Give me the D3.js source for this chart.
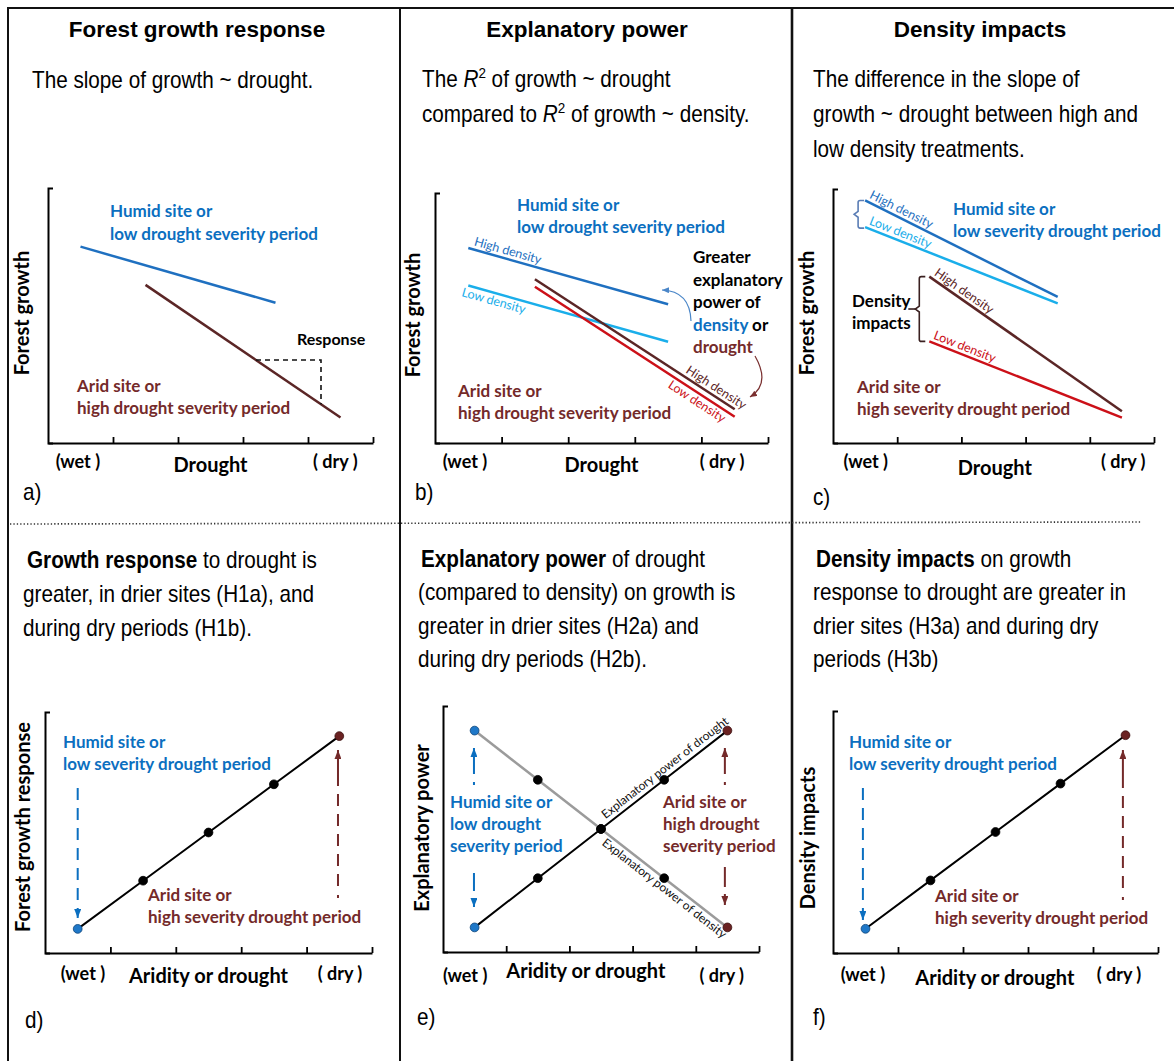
<!DOCTYPE html>
<html><head><meta charset="utf-8">
<script src="https://cdn.jsdelivr.net/npm/d3@7/dist/d3.min.js"></script>
<style>html,body{margin:0;padding:0;background:#fff;} svg{display:block;} text{white-space:pre;}</style>
</head><body>
<svg id="chart" width="1174" height="1061" xmlns="http://www.w3.org/2000/svg"></svg>
<script>
// ---------------- DATA ----------------
const xTickValues = [1, 2, 3, 4, 5];
const xEndLabels = ["(wet )", "( dry )"];
const panelTitles = ["Forest growth response", "Explanatory power", "Density impacts"];
const panelLetters = ["a)", "b)", "c)", "d)", "e)", "f)"];
const yAxisTitles = ["Forest growth", "Forest growth", "Forest growth", "Forest growth response", "Explanatory power", "Density impacts"];
const xAxisTitles = ["Drought", "Drought", "Drought", "Aridity or drought", "Aridity or drought", "Aridity or drought"];

// panel a : growth ~ drought
const aHumid = [[0.5, 7.7], [3.5, 5.5]];
const aArid = [[1.5, 6.2], [4.5, 1.0]];
const aResponseX = [3.2, 4.2];
// panel b
const bHumidHigh = [[0.5, 7.8], [3.5, 5.55]];
const bHumidLow = [[0.5, 6.3], [3.5, 4.05]];
const bAridHigh = [[1.5, 6.55], [4.5, 1.35]];
const bAridLow = [[1.5, 6.25], [4.5, 1.05]];
// panel c
const cHumidHigh = [[0.5, 9.55], [3.5, 5.75]];
const cHumidLow = [[0.5, 8.5], [3.5, 5.5]];
const cAridHigh = [[1.5, 6.55], [4.5, 1.25]];
const cAridLow = [[1.5, 4.0], [4.5, 1.0]];
// bottom panels
const aridityX = [0.5, 1.5, 2.5, 3.5, 4.5];
const growthResponse = [1, 3, 5, 7, 9];
const droughtPower = [1, 3, 5, 7, 9];
const densityPower = [9, 7, 5, 3, 1];
const densityImpacts = [1, 3, 5, 7, 9];

// ---------------- STYLE / LAYOUT ----------------
const FA = "'Liberation Sans', Arial, Helvetica, sans-serif";
const FC = "Lato, 'Open Sans', sans-serif";
const C = {
  blueText: "#0b6fc0", brownText: "#742a2a", blueLine: "#1f70c0", lightBlue: "#1aaeea",
  brownLine: "#5b2626", red: "#cc1018", gray: "#9b9b9b", bracketBlue: "#5a7db5",
  dark: "#3a2020", ptBlue: "#1f78c8", ptBrown: "#6a2222"
};
const L = [
  {x0: 48, x1: 373, yb: 443, yt: 188, wet: 0.46, dry: 4.42, tx: 2.5, wetDy: 25, titleDy: 29, ylx: 29, yly: 313, letter: [23, 500]},
  {x0: 435, x1: 768, yb: 443, yt: 193, wet: 0.45, dry: 4.31, tx: 2.5, wetDy: 25, titleDy: 29, ylx: 420, yly: 315, letter: [415, 500]},
  {x0: 833, x1: 1154, yb: 443, yt: 189, wet: 0.51, dry: 4.52, tx: 2.52, wetDy: 25, titleDy: 32, ylx: 814, yly: 313, letter: [813, 505]},
  {x0: 45, x1: 372, yb: 953, yt: 712, wet: 0.58, dry: 4.51, tx: 2.5, wetDy: 27, titleDy: 30, ylx: 30, yly: 827, letter: [25, 1028]},
  {x0: 443, x1: 759, yb: 952, yt: 706, wet: 0.35, dry: 4.41, tx: 2.26, wetDy: 30, titleDy: 26, ylx: 429, yly: 828, letter: [417, 1025]},
  {x0: 833, x1: 1158, yb: 953, yt: 711, wet: 0.46, dry: 4.4, tx: 2.49, wetDy: 28, titleDy: 32, ylx: 815, yly: 838, letter: [813, 1025]}
];

const svg = d3.select("#chart");
svg.append("rect").attr("width", 1174).attr("height", 1061).attr("fill", "#fff");

// markers
const defs = svg.append("defs");
function marker(id, color, w, h) {
  defs.append("marker").attr("id", id).attr("viewBox", `0 0 ${w} ${h}`)
    .attr("refX", w).attr("refY", h / 2).attr("markerWidth", w).attr("markerHeight", h)
    .attr("markerUnits", "userSpaceOnUse").attr("orient", "auto-start-reverse")
    .append("path").attr("d", `M0,0 L${w},${h / 2} L0,${h} Z`).attr("fill", color);
}
marker("ah-blue", C.blueText, 9, 7);
marker("ah-brown", C.brownText, 9, 7);
marker("ah-blue-thin", "#4a86c8", 7, 6);
marker("ah-brown-thin", "#7a3030", 7, 6);

// ---------------- HELPERS ----------------
function label(parent, x, y, content, o = {}) {
  const sx = o.sx || 1;
  const size = o.size || 17;
  const g = parent.append("g").attr("transform", `translate(${x},${y})${o.rot ? ` rotate(${o.rot})` : ""} scale(${sx},1)`);
  const t = g.append("text").attr("font-family", o.family || FC).attr("font-size", size)
    .attr("font-weight", o.weight || "normal").attr("fill", o.fill || "#000")
    .attr("text-anchor", o.anchor || "start");
  const parts = typeof content === "string" ? [{t: content}] : content;
  parts.forEach(p => {
    const ts = t.append("tspan").text(p.t);
    if (p.bold) ts.attr("font-weight", "bold");
    if (p.italic) ts.attr("font-style", "italic");
    if (p.fill) ts.attr("fill", p.fill);
    if (p.sup) ts.attr("dy", -9).attr("font-size", size * 0.65);
    if (p.after) ts.attr("dy", 9);
  });
  return t;
}
function lines(parent, x, y0, dy, arr, o) {
  arr.forEach((c, i) => label(parent, x, y0 + i * dy, c, o));
}
function axes(p) {
  const x = d3.scaleLinear().domain([0, 5]).range([p.x0, p.x1]);
  const y = d3.scaleLinear().domain([0, 10]).range([p.yb, p.yt]);
  const gx = svg.append("g").attr("transform", `translate(0,${p.yb})`)
    .call(d3.axisBottom(x).tickValues(xTickValues).tickSize(-6).tickSizeOuter(0).tickFormat(""));
  gx.select(".domain").attr("stroke-width", 2);
  gx.selectAll(".tick line").attr("stroke-width", 1.8);
  const gy = svg.append("g").attr("transform", `translate(${p.x0},0)`)
    .call(d3.axisLeft(y).tickValues([]).tickSizeOuter(-5));
  gy.select(".domain").attr("stroke-width", 2);
  return {x, y};
}
function seg(S, data, color, w, dash) {
  const ln = d3.line().x(d => S.x(d[0])).y(d => S.y(d[1]));
  const p = svg.append("path").attr("d", ln(data)).attr("fill", "none")
    .attr("stroke", color).attr("stroke-width", w);
  if (dash) p.attr("stroke-dasharray", dash);
  return p;
}
function alongLabel(S, s, t, off, text, fill, anchor, size) {
  const x1 = S.x(s[0][0]), y1 = S.y(s[0][1]), x2 = S.x(s[1][0]), y2 = S.y(s[1][1]);
  const ang = Math.atan2(y2 - y1, x2 - x1) * 180 / Math.PI;
  const px = x1 + (x2 - x1) * t, py = y1 + (y2 - y1) * t;
  svg.append("text").attr("transform", `translate(${px},${py}) rotate(${ang})`)
    .attr("y", off).attr("font-family", FC).attr("font-size", size || 12.5)
    .attr("fill", fill).attr("text-anchor", anchor || "start").text(text);
}
function arrow(S, xv, yFrom, yTo, color, id, dash) {
  svg.append("path")
    .attr("d", `M${S.x(xv)},${S.y(yFrom)} L${S.x(xv)},${S.y(yTo)}`)
    .attr("stroke", color).attr("stroke-width", 2).attr("fill", "none")
    .attr("stroke-dasharray", dash).attr("marker-end", `url(#${id})`);
}
function points(S, xs, ys) {
  svg.append("g").selectAll("circle").data(xs.map((d, i) => [d, ys[i], i])).join("circle")
    .attr("cx", d => S.x(d[0])).attr("cy", d => S.y(d[1])).attr("r", 4.4)
    .attr("fill", d => d[2] === 0 ? C.ptBlue : d[2] === xs.length - 1 ? C.ptBrown : "#000")
    .attr("stroke", d => d[2] === 0 ? "#0d4478" : d[2] === xs.length - 1 ? "#3a1010" : "#000")
    .attr("stroke-width", 0.8);
}
function panelFrame(i, S) {
  const p = L[i];
  label(svg, S.x(p.wet), p.yb + p.wetDy, xEndLabels[0], {size: 18, weight: "bold", anchor: "middle"});
  label(svg, S.x(p.dry), p.yb + p.wetDy, xEndLabels[1], {size: 18, weight: "bold", anchor: "middle"});
  label(svg, S.x(p.tx), p.yb + p.titleDy, xAxisTitles[i], {size: 20, weight: "bold", anchor: "middle"});
  label(svg, p.ylx, p.yly, yAxisTitles[i], {size: 20, weight: "bold", anchor: "middle", rot: -90});
  label(svg, p.letter[0], p.letter[1], panelLetters[i], {family: FA, size: 23, sx: 0.9});
}

// ---------------- FRAME ----------------
const frame = svg.append("g").attr("stroke", "#111").attr("fill", "none");
frame.append("line").attr("x1", 7).attr("x2", 1174).attr("y1", 8).attr("y2", 8).attr("stroke-width", 2);
frame.append("line").attr("x1", 8).attr("x2", 8).attr("y1", 7).attr("y2", 1061).attr("stroke-width", 2);
frame.append("line").attr("x1", 400).attr("x2", 400).attr("y1", 7).attr("y2", 1061).attr("stroke-width", 2);
frame.append("line").attr("x1", 792).attr("x2", 792).attr("y1", 7).attr("y2", 1061).attr("stroke-width", 2.6);
frame.append("line").attr("x1", 10).attr("x2", 1142).attr("y1", 524).attr("y2", 522)
  .attr("stroke", "#333").attr("stroke-width", 1.6).attr("stroke-dasharray", "1.3,2.1");

// ---------------- TITLES & TEXT ----------------
const titleX = [197, 587, 980];
panelTitles.forEach((t, i) => label(svg, titleX[i], 37, t, {family: FA, size: 22.5, weight: "bold", anchor: "middle"}));
const TXT = {family: FA, size: 23, sx: 0.9};
lines(svg, 32, 88, 35, ["The slope of growth ~ drought."], TXT);
lines(svg, 422, 87, 35, [
  [{t: "The "}, {t: "R", italic: true}, {t: "2", sup: true}, {t: " of growth ~ drought", after: true}],
  [{t: "compared to "}, {t: "R", italic: true}, {t: "2", sup: true}, {t: " of growth ~ density.", after: true}]
], TXT);
lines(svg, 813, 87, 35, ["The difference in the slope of", "growth ~ drought between high and", "low density treatments."], TXT);
label(svg, 27, 568, [{t: "Growth response", bold: true}, {t: " to drought is"}], TXT);
lines(svg, 23, 602, 33.5, ["greater, in drier sites (H1a), and", "during dry periods (H1b)."], TXT);
label(svg, 421, 567, [{t: "Explanatory power", bold: true}, {t: " of drought"}], TXT);
lines(svg, 418, 600, 33.5, ["(compared to density) on growth is", "greater in drier sites (H2a) and", "during dry periods (H2b)."], TXT);
label(svg, 816, 567, [{t: "Density impacts", bold: true}, {t: " on growth"}], TXT);
lines(svg, 813, 600, 33.5, ["response to drought are greater in", "drier sites (H3a) and during dry", "periods (H3b)"], TXT);

const ANN = {size: 17, weight: "bold"};

// ---------------- PANEL A ----------------
{
  const S = axes(L[0]);
  panelFrame(0, S);
  seg(S, aHumid, C.blueLine, 2.5);
  seg(S, aArid, C.brownLine, 2.5);
  const f = xv => aArid[0][1] + (xv - aArid[0][0]) * (aArid[1][1] - aArid[0][1]) / (aArid[1][0] - aArid[0][0]);
  const [r0, r1] = aResponseX;
  svg.append("path").attr("d", `M${S.x(r0)},${S.y(f(r0))} H${S.x(r1)} V${S.y(f(r1))}`)
    .attr("fill", "none").attr("stroke", "#111").attr("stroke-width", 1.6).attr("stroke-dasharray", "5,4");
  label(svg, 297, 345, "Response", {size: 16, weight: "bold"});
  lines(svg, 110, 217, 23, ["Humid site or", "low drought severity period"], {...ANN, fill: C.blueText});
  lines(svg, 77, 392, 22, ["Arid site or", "high drought severity period"], {...ANN, fill: C.brownText});
}

// ---------------- PANEL B ----------------
{
  const S = axes(L[1]);
  panelFrame(1, S);
  seg(S, bHumidHigh, C.blueLine, 2.5);
  seg(S, bHumidLow, C.lightBlue, 2.5);
  seg(S, bAridHigh, C.brownLine, 2.5);
  seg(S, bAridLow, C.red, 2.5);
  alongLabel(S, bHumidHigh, 0.02, -4, "High density", C.blueLine, "start");
  alongLabel(S, bHumidLow, -0.02, 12, "Low density", C.lightBlue, "start");
  alongLabel(S, bAridHigh, 1.03, -4, "High density", C.brownLine, "end");
  alongLabel(S, bAridLow, 0.97, 12, "Low density", C.red, "end");
  lines(svg, 517, 211, 22, ["Humid site or", "low drought severity period"], {...ANN, fill: C.blueText});
  lines(svg, 458, 397, 21.5, ["Arid site or", "high drought severity period"], {...ANN, fill: C.brownText});
  lines(svg, 693, 263, 22.5, ["Greater", "explanatory", "power of",
    [{t: "density", fill: C.blueText}, {t: " or"}], [{t: "drought", fill: C.brownText}]], ANN);
  svg.append("path").attr("d", "M691,321 Q690,291 662,290").attr("fill", "none")
    .attr("stroke", "#4a86c8").attr("stroke-width", 1.2).attr("marker-end", "url(#ah-blue-thin)");
  svg.append("path").attr("d", "M755,356 Q771,384 750,397").attr("fill", "none")
    .attr("stroke", "#7a3030").attr("stroke-width", 1.2).attr("marker-end", "url(#ah-brown-thin)");
}

// ---------------- PANEL C ----------------
{
  const S = axes(L[2]);
  panelFrame(2, S);
  seg(S, cHumidHigh, C.blueLine, 2.5);
  seg(S, cHumidLow, C.lightBlue, 2.5);
  seg(S, cAridHigh, C.brownLine, 2.5);
  seg(S, cAridLow, C.red, 2.5);
  alongLabel(S, cHumidHigh, 0.01, -4, "High density", C.blueLine, "start");
  alongLabel(S, cHumidLow, 0.01, -4, "Low density", C.lightBlue, "start");
  alongLabel(S, cAridHigh, 0.01, -4, "High density", C.brownLine, "start");
  alongLabel(S, cAridLow, 0.01, -4, "Low density", C.red, "start");
  // brackets
  const br = (xb, yTop, yBot, color, nub) => {
    const ym = (yTop + yBot) / 2;
    svg.append("path").attr("d",
      `M${xb + 6},${yTop} H${xb + 2} Q${xb},${yTop} ${xb},${yTop + 2} V${ym - 3} L${xb - 4},${ym} L${xb},${ym + 3} V${yBot - 2} Q${xb},${yBot} ${xb + 2},${yBot} H${xb + 6}`)
      .attr("fill", "none").attr("stroke", color).attr("stroke-width", 1.6);
    if (nub) svg.append("line").attr("x1", xb - 4).attr("x2", xb - 11).attr("y1", ym).attr("y2", ym)
      .attr("stroke", color).attr("stroke-width", 1.6);
  };
  br(S.x(cHumidHigh[0][0]) - 7, S.y(cHumidHigh[0][1]), S.y(cHumidLow[0][1]) + 1, C.bracketBlue, false);
  br(S.x(cAridHigh[0][0]) - 10, S.y(cAridHigh[0][1]), S.y(cAridLow[0][1]), C.dark, true);
  lines(svg, 852, 307, 22, ["Density", "impacts"], ANN);
  lines(svg, 953, 215, 22, ["Humid site or", "low severity drought period"], {...ANN, fill: C.blueText});
  lines(svg, 857, 393, 22, ["Arid site or", "high severity drought period"], {...ANN, fill: C.brownText});
}

// ---------------- PANEL D ----------------
{
  const S = axes(L[3]);
  panelFrame(3, S);
  arrow(S, 0.5, 6.85, 1.45, C.blueText, "ah-blue", "12,8");
  arrow(S, 4.48, 2.28, 8.42, C.brownText, "ah-brown", "3,9,12,8,12,8,12,8,12,8,12,8,40");
  seg(S, aridityX.map((d, i) => [d, growthResponse[i]]), "#000", 2);
  points(S, aridityX, growthResponse);
  lines(svg, 63, 748, 22, ["Humid site or", "low severity drought period"], {...ANN, fill: C.blueText});
  lines(svg, 148, 901, 21.5, ["Arid site or", "high severity drought period"], {...ANN, fill: C.brownText});
}

// ---------------- PANEL E ----------------
{
  const S = axes(L[4]);
  panelFrame(4, S);
  const dens = aridityX.map((d, i) => [d, densityPower[i]]);
  const drou = aridityX.map((d, i) => [d, droughtPower[i]]);
  seg(S, dens, C.gray, 2.5);
  seg(S, drou, "#000", 2);
  points(S, aridityX, densityPower);
  points(S, aridityX, droughtPower);
  alongLabel(S, [drou[0], drou[4]], 0.53, -5, "Explanatory power of drought", "#111", "start", 12);
  alongLabel(S, [dens[0], dens[4]], 0.53, 12, "Explanatory power of density", "#111", "start", 12);
  arrow(S, 0.49, 6.79, 8.29, C.blueText, "ah-blue", "3,8,60");
  arrow(S, 0.49, 3.21, 1.83, C.blueText, "ah-blue", "18,7,60");
  arrow(S, 4.46, 6.79, 8.29, C.brownText, "ah-brown", "3,8,60");
  arrow(S, 4.46, 3.46, 1.91, C.brownText, "ah-brown", "20,7,60");
  lines(svg, 450, 808, 22, ["Humid site or", "low drought", "severity period"], {...ANN, fill: C.blueText});
  lines(svg, 663, 808, 22, ["Arid site or", "high drought", "severity period"], {...ANN, fill: C.brownText});
}

// ---------------- PANEL F ----------------
{
  const S = axes(L[5]);
  panelFrame(5, S);
  arrow(S, 0.46, 6.82, 1.36, C.blueText, "ah-blue", "12,8");
  arrow(S, 4.46, 2.19, 8.39, C.brownText, "ah-brown", "3,9,12,8,12,8,12,8,12,8,12,8,40");
  seg(S, aridityX.map((d, i) => [d, densityImpacts[i]]), "#000", 2);
  points(S, aridityX, densityImpacts);
  lines(svg, 849, 748, 22, ["Humid site or", "low severity drought period"], {...ANN, fill: C.blueText});
  lines(svg, 935, 902, 21.5, ["Arid site or", "high severity drought period"], {...ANN, fill: C.brownText});
}
</script>
</body></html>
